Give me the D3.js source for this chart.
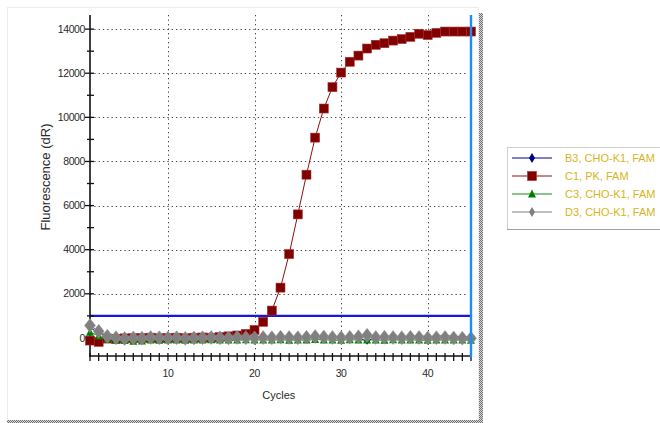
<!DOCTYPE html>
<html>
<head>
<meta charset="utf-8">
<script src="https://cdn.jsdelivr.net/npm/d3@7/dist/d3.min.js"></script>
<style>
  html, body { margin: 0; padding: 0; background: #fff; }
  svg { display: block; }
  text { font-family: "Liberation Sans", Arial, sans-serif; }
</style>
</head>
<body>
<svg id="chart" width="660" height="423"></svg>
<script>
// Amplification data: fluorescence (dR) per cycle, cycles 1..45
const cycles = d3.range(1, 46);

const seriesNames = ["B3, CHO-K1, FAM", "C1, PK, FAM", "C3, CHO-K1, FAM", "D3, CHO-K1, FAM"];

const b3Values = [480, 200, 150, 40, 10, 20, 50, 80, 40, 20,
                  60, 30, 10, 40, 70, 30, 20, 60, 40, 50,
                  70, 40, 60, 80, 50, 90, 60, 40, 70, 50,
                  30, 0, -150, 40, 60, 80, 50, 70, 90, 60,
                  80, 100, 70, 60, 40];

const c1Values = [-120, -180, -30, -40, -20, -10, 0, 10, -10, 0,
                  10, -10, 10, 20, 10, 40, 70, 110, 180, 360,
                  730, 1240, 2280, 3800, 5600, 7400, 9080, 10400, 11370, 12030,
                  12520, 12800, 13120, 13290, 13360, 13480, 13550, 13650, 13790, 13730,
                  13830, 13890, 13890, 13890, 13890];

const c3Values = [260, 90, -60, -110, -120, -150, -140, -100, -110, -90,
                  -100, -110, -90, -100, -80, -100, -90, -100, -80, -90,
                  -90, -100, -80, -110, -90, -100, -70, -90, -100, -110,
                  -80, -90, -100, -90, -110, -80, -100, -90, -100, -110,
                  -90, -100, -90, -100, -110];

const d3Values = [560, 300, 80, 10, -30, 0, -10, 20, 10, 0,
                  10, -20, 0, 10, 20, 10, 0, 20, 10, 0,
                  20, 10, 30, 20, 10, 30, 60, 40, 20, 10,
                  30, 50, 120, 20, 30, 20, 10, 30, 20, 0,
                  10, 20, 0, -10, -20];

const yTicks = [0, 2000, 4000, 6000, 8000, 10000, 12000, 14000];
const xTicks = [10, 20, 30, 40];
const threshold = 1000;
const endCycle = 45;

const seriesColors = ["#00008b", "#800000", "#008000", "#808080"];
const lineColors = ["#00008b", "#8b1010", "#1a8a1a", "#808080"];
const seriesShapes = ["diamondSmall", "square", "triangle", "diamond"];
const seriesValues = [b3Values, c1Values, c3Values, d3Values];

const svg = d3.select("#chart");

// checker pattern for the window frame edge
const defs = svg.append("defs");
const pat = defs.append("pattern").attr("id", "checker")
  .attr("width", 2).attr("height", 2).attr("patternUnits", "userSpaceOnUse");
pat.append("rect").attr("width", 2).attr("height", 2).attr("fill", "#d8d8d8");
pat.append("rect").attr("width", 1).attr("height", 1).attr("fill", "#707070");
pat.append("rect").attr("x", 1).attr("y", 1).attr("width", 1).attr("height", 1).attr("fill", "#707070");

// panel frame
svg.append("rect").attr("x", 7.5).attr("y", 7.5).attr("width", 471).attr("height", 413)
  .attr("fill", "#fff").attr("stroke", "#ececec");
svg.append("rect").attr("x", 479).attr("y", 13).attr("width", 4).attr("height", 410).attr("fill", "url(#checker)");
svg.append("rect").attr("x", 7).attr("y", 420).attr("width", 476).attr("height", 3).attr("fill", "url(#checker)");

const x = d3.scaleLinear().domain([1, 45]).range([90, 471]);
const y = d3.scaleLinear().domain([-820, 14640]).range([356, 15]);

// dotted grid
const grid = svg.append("g");
grid.selectAll("line.h").data(yTicks.filter(d => d > 0)).join("line")
  .attr("x1", x(1)).attr("x2", x(44.7))
  .attr("y1", d => Math.round(y(d)) + 0.5).attr("y2", d => Math.round(y(d)) + 0.5)
  .attr("stroke", "#444").attr("stroke-width", 1).attr("stroke-dasharray", "1.3,3");
grid.selectAll("line.v").data(xTicks).join("line")
  .attr("x1", d => Math.round(x(d)) + 0.5).attr("x2", d => Math.round(x(d)) + 0.5)
  .attr("y1", 15).attr("y2", 352)
  .attr("stroke", "#444").attr("stroke-width", 1).attr("stroke-dasharray", "1.3,3.2");

// threshold line
svg.append("line").attr("x1", x(1)).attr("x2", x(endCycle))
  .attr("y1", y(threshold)).attr("y2", y(threshold))
  .attr("stroke", "#1515e6").attr("stroke-width", 2.2);

// axes
const yAxisG = svg.append("g").attr("transform", "translate(90,0)");
yAxisG.append("line").attr("x1", 0).attr("x2", 0).attr("y1", 15).attr("y2", 357)
  .attr("stroke", "#111").attr("stroke-width", 1.6);
const minorY = d3.range(-0, 15000, 1000).filter(v => v % 2000 !== 0);
yAxisG.selectAll("line.minor").data(minorY).join("line")
  .attr("x1", -3).attr("x2", 4).attr("y1", d => y(d)).attr("y2", d => y(d))
  .attr("stroke", "#111").attr("stroke-width", 1.3);
yAxisG.selectAll("line.major").data(yTicks).join("line")
  .attr("x1", -5).attr("x2", 4).attr("y1", d => y(d)).attr("y2", d => y(d))
  .attr("stroke", "#111").attr("stroke-width", 1.3);
yAxisG.selectAll("text").data(yTicks).join("text")
  .attr("x", -5).attr("y", d => y(d)).attr("dy", "0.35em")
  .attr("text-anchor", "end").attr("font-size", 10.5).attr("letter-spacing", -0.4)
  .attr("fill", "#2a2a2a").text(d => d);

const xAxisG = svg.append("g").attr("transform", "translate(0,356)");
xAxisG.append("line").attr("x1", 90).attr("x2", x(endCycle)).attr("y1", 0).attr("y2", 0)
  .attr("stroke", "#111").attr("stroke-width", 1.6);
xAxisG.selectAll("line.tick").data(cycles).join("line")
  .attr("x1", d => x(d)).attr("x2", d => x(d)).attr("y1", -3).attr("y2", 5)
  .attr("stroke", "#111").attr("stroke-width", 1.3);
xAxisG.selectAll("text").data(xTicks).join("text")
  .attr("x", d => x(d)).attr("y", 21)
  .attr("text-anchor", "middle").attr("font-size", 10.5).attr("letter-spacing", -0.4)
  .attr("fill", "#2a2a2a").text(d => d);

// axis titles
svg.append("text").attr("x", x(22.8)).attr("y", 399).attr("text-anchor", "middle")
  .attr("font-size", 11).attr("fill", "#2a2a2a").text("Cycles");
svg.append("text").attr("transform", "translate(50,177) rotate(-90)")
  .attr("text-anchor", "middle").attr("font-size", 13).attr("fill", "#2a2a2a")
  .text("Fluorescence (dR)");

// marker drawing
function drawMarker(g, shape, color) {
  if (shape === "square") {
    g.append("rect").attr("x", -4.5).attr("y", -4.5).attr("width", 9).attr("height", 9)
      .attr("fill", color).attr("stroke", "#a33").attr("stroke-width", 0.6);
  } else if (shape === "triangle") {
    g.append("path").attr("d", "M0,-4.5L4,3.5L-4,3.5Z").attr("fill", color);
  } else if (shape === "diamond") {
    g.append("path").attr("d", "M0,-7L5.5,0L0,7L-5.5,0Z").attr("fill", color)
      .attr("stroke", "#9a9a9a").attr("stroke-width", 0.5);
  } else if (shape === "legendDiamond") {
    g.append("path").attr("d", "M0,-5L3,0L0,5L-3,0Z").attr("fill", color);
  } else {
    g.append("path").attr("d", "M0,-3.5L2.5,0L0,3.5L-2.5,0Z").attr("fill", color);
  }
}

const line = d3.line().x(d => x(d[0])).y(d => y(d[1]));

seriesValues.forEach((vals, i) => {
  const pts = cycles.map((c, k) => [c, vals[k]]);
  const g = svg.append("g");
  g.append("path").datum(pts).attr("d", line).attr("fill", "none")
    .attr("stroke", lineColors[i]).attr("stroke-width", 1);
  pts.forEach(p => {
    const m = g.append("g").attr("transform", `translate(${x(p[0])},${y(p[1])})`);
    drawMarker(m, seriesShapes[i], seriesColors[i]);
  });
});

// end-cycle marker line
svg.append("line").attr("x1", x(endCycle)).attr("x2", x(endCycle))
  .attr("y1", 15).attr("y2", 357).attr("stroke", "#1e8cf0").attr("stroke-width", 2.4);

// legend
const legendShapes = ["legendDiamond", "square", "triangle", "legendDiamond"];
const lg = svg.append("g").attr("transform", "translate(507,147)");
lg.append("rect").attr("x", 0.5).attr("y", 0.5).attr("width", 170).attr("height", 82)
  .attr("fill", "#fff").attr("stroke", "#cfcfcf");
lg.append("line").attr("x1", 0).attr("x2", 170).attr("y1", 82.5).attr("y2", 82.5)
  .attr("stroke", "#a0a0a0");
seriesNames.forEach((name, i) => {
  const yy = 11 + i * 18;
  lg.append("line").attr("x1", 5).attr("x2", 45).attr("y1", yy).attr("y2", yy)
    .attr("stroke", lineColors[i]).attr("stroke-width", 1.2);
  const m = lg.append("g").attr("transform", `translate(25,${yy})`);
  drawMarker(m, legendShapes[i], seriesColors[i]);
  lg.append("text").attr("x", 58).attr("y", yy).attr("dy", "0.36em")
    .attr("font-size", 11).attr("fill", "#d8b41c").text(name);
});
</script>
</body>
</html>
